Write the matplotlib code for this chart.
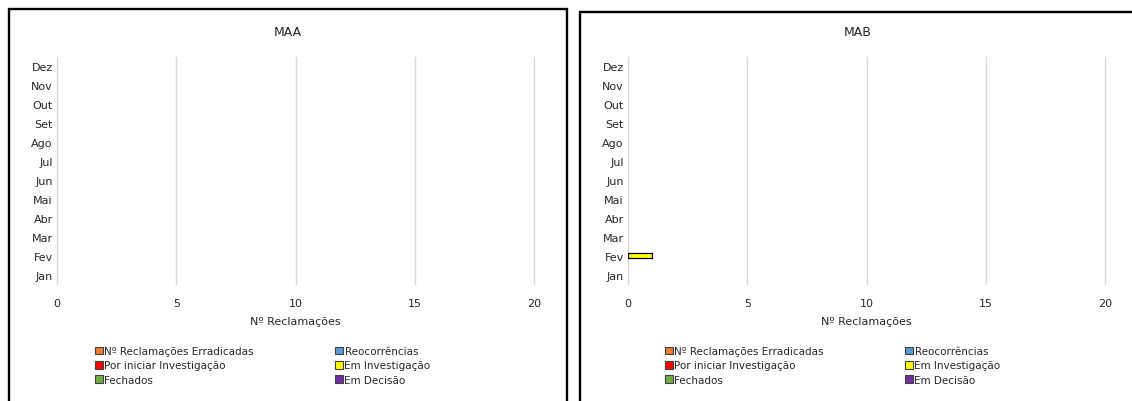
import matplotlib
matplotlib.use("Agg")
import matplotlib.pyplot as plt
from matplotlib.patches import Rectangle, Patch
import numpy as np

months = ["Jan", "Fev", "Mar", "Abr", "Mai", "Jun", "Jul", "Ago", "Set", "Out", "Nov", "Dez"]
series_names = ["Nº Reclamações Erradicadas", "Reocorrências", "Por iniciar Investigação",
                "Em Investigação", "Fechados", "Em Decisão"]
series_colors = ["#ED7D31", "#5B9BD5", "#FF0000", "#FFFF00", "#70AD47", "#7030A0"]

# monthly counts per status, one list per series
maa_erradicadas = [0] * 12
maa_reocorrencias = [0] * 12
maa_por_iniciar = [0] * 12
maa_em_investigacao = [0] * 12
maa_fechados = [0] * 12
maa_em_decisao = [0] * 12

mab_erradicadas = [0] * 12
mab_reocorrencias = [0] * 12
mab_por_iniciar = [0] * 12
mab_em_investigacao = [0, 1, 0, 0, 0, 0, 0, 0, 0, 0, 0, 0]
mab_fechados = [0] * 12
mab_em_decisao = [0] * 12

x_ticks = [0, 5, 10, 15, 20]

W, H = 1132, 402
fig = plt.figure(figsize=(W / 100, H / 100), dpi=100)
fig.patch.set_facecolor("white")


def px(x0, y0, w, h):
    return [x0 / W, 1 - (y0 + h) / H, w / W, h / H]


def panel(x0, y0, x1, title, data, legend_x):
    # chart frame
    fig.patches.append(Rectangle((x0 / W, -0.05), (x1 - x0) / W, 1 - y0 / H + 0.05,
                                 transform=fig.transFigure, fill=False,
                                 edgecolor="black", linewidth=1.7, zorder=0))
    ax = fig.add_axes(px(x0 + 48, 58, 477, 227))
    y = np.arange(len(months))
    left = np.zeros(len(months))
    handles = []
    for name, color, vals in zip(series_names, series_colors, data):
        vals = np.array(vals, dtype=float)
        lw = [0.9 if v > 0 else 0 for v in vals]
        ax.barh(y, vals, left=left, height=0.27, color=color,
                edgecolor="black", linewidth=lw, zorder=3)
        left += vals
        handles.append(Patch(facecolor=color, edgecolor="#404040", linewidth=0.8, label=name))
    ax.set_xlim(0, 20)
    ax.set_ylim(-0.5, len(months) - 0.5)
    ax.set_yticks(y)
    ax.set_yticklabels(months, fontsize=8, color="#262626")
    ax.set_xticks(x_ticks)
    ax.set_xticklabels([str(t) for t in x_ticks], fontsize=8, color="#262626")
    ax.tick_params(axis="both", length=0)
    ax.tick_params(axis="x", pad=10)
    ax.tick_params(axis="y", pad=3)
    for s in ax.spines.values():
        s.set_visible(False)
    ax.xaxis.grid(True, color="#D9D9D9", linewidth=1)
    for gl in ax.get_xgridlines():
        gl.set_clip_on(False)
    ax.set_axisbelow(True)
    ax.set_xlabel("Nº Reclamações", fontsize=8, color="#262626", labelpad=6)
    fig.text(((x0 + x1) / 2) / W, 1 - 33 / H, title, fontsize=9, color="#262626",
             ha="center", va="center")
    order = [0, 2, 4, 1, 3, 5]
    leg = ax.legend([handles[i] for i in order], [series_names[i] for i in order],
                    ncol=2, loc="upper left", bbox_to_anchor=(legend_x / W, 1 - 347 / H),
                    bbox_transform=fig.transFigure, frameon=False, fontsize=7.5,
                    handlelength=0.75, handleheight=0.75, handletextpad=0.15,
                    labelspacing=0.42, columnspacing=7.8, borderpad=0, borderaxespad=0)
    for t in leg.get_texts():
        t.set_color("#262626")
    return ax


panel(9, 10, 567, "MAA",
      [maa_erradicadas, maa_reocorrencias, maa_por_iniciar, maa_em_investigacao,
       maa_fechados, maa_em_decisao], 95)
panel(580, 13, 1136, "MAB",
      [mab_erradicadas, mab_reocorrencias, mab_por_iniciar, mab_em_investigacao,
       mab_fechados, mab_em_decisao], 665)

fig.savefig("out.png", dpi=100, facecolor="white")
